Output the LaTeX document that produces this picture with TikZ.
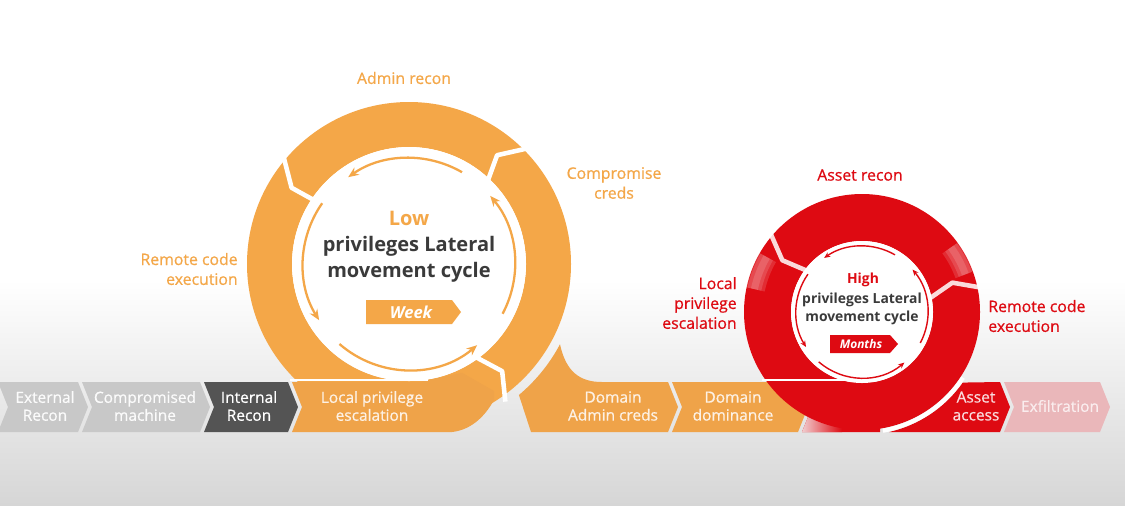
\documentclass[tikz,border=0pt]{standalone}
\usepackage{fontspec}
\setmainfont{Open Sans}
\newfontfamily\semib{Open Sans}[FakeBold=0.7]
\usetikzlibrary{arrows.meta,calc}
\definecolor{cycorange}{RGB}{244,167,72}
\definecolor{bandorange}{RGB}{239,163,73}
\definecolor{cycred}{RGB}{222,10,18}
\definecolor{textdark}{RGB}{58,58,58}
\definecolor{chevgray}{RGB}{200,200,200}
\definecolor{chevdark}{RGB}{84,84,84}
\definecolor{exfilpink}{RGB}{234,183,186}
\definecolor{bggray}{RGB}{214,214,214}

% one step of the kill-chain row
\newcommand{\chevron}[2]{(#1,-382) -- (#2,-382) -- ++(10,-25) -- (#2,-432) -- (#1,-432) -- ++(10,25) -- cycle}

\begin{document}
\begin{tikzpicture}[x=0.02cm, y=0.02cm,
    lbl/.style={font=\semib\fontsize{9}{11.3}\selectfont, align=center, inner sep=0pt},
    steptext/.style={font=\semib\fontsize{8.8}{10.2}\selectfont, align=center, inner sep=0pt},
    hubtext/.style={font=\bfseries\fontsize{11.4}{14.8}\selectfont, align=center, inner sep=0pt, text=textdark},
    gap/.style={white, line width=2.6pt, line join=round},
    gloss/.style={white, opacity=.14, line width=#1},
    cyc/.style={cycorange, line width=1.3pt, -{Stealth[length=6pt, width=5pt]}},
    tag/.style={font=\bfseries\itshape\fontsize{9.4}{10}\selectfont, text=white, inner sep=0pt}]
  \useasboundingbox (0,0) rectangle (1125,-505);
  % background
  \fill[white] (0,0) rectangle (1125,-505);
  \shade[top color=white, bottom color=bggray] (0,-280) rectangle (1125,-505);

  \coordinate (oc) at (409,-264);
  \coordinate (rc) at (862,-312);

  % grey steps
  \fill[chevgray] \chevron{-2}{78};
  \fill[chevgray] \chevron{82}{200};
  \fill[chevdark] \chevron{204}{288};

  % low privileges cycle
  \fill[cycorange, even odd rule] (oc) circle (162) (oc) circle (117);
  \fill[white] (oc) circle (117);
  \fill[bandorange] (292,-382) -- (420,-382) -- ($(oc)+(-64:121)$) -- (494,-391) -- (494,-400)
    .. controls (484,-418) and (470,-430) .. (452,-432) -- (292,-432) -- (302,-407) -- cycle;
  \fill[bandorange] (531,-432) -- ($(oc)+(-50:171)$) arc[start angle=-50, end angle=-28, radius=171]
    .. controls (566,-372) and (580,-382) .. (602,-382) -- (668,-382) -- (678,-407) -- (668,-432) -- cycle;
  \fill[bandorange] \chevron{672}{798};
  \draw[gap] ($(oc)+(139:167)$) -- ($(oc)+(147:140)$) -- ($(oc)+(146:112)$);
  \draw[gap] ($(oc)+(44:167)$) -- ($(oc)+(51:140)$) -- ($(oc)+(46:112)$);
  \draw[gap] ($(oc)+(-55:112)$) -- ($(oc)+(-49:142)$) -- ($(oc)+(-55:168)$);
  \draw[gap, line width=1.4pt] (290,-380) -- (428,-380);
  \foreach \a/\b in {60/125, 145/212, 229/310, 332/400}
    \draw[cyc] ($(oc)+(\a:106)$) arc[start angle=\a, end angle=\b, radius=106];
  \fill[cycorange] (366,-300) -- (452,-300) -- (461,-312) -- (452,-324) -- (366,-324) -- cycle;

  % high privileges cycle
  \fill[cycred] (802,-382) -- (880,-382) -- (880,-432) -- (802,-432) -- (812,-407) -- cycle;
  \shade[left color=exfilpink!70, right color=cycred] (802,-382) -- (842,-382) -- (842,-432) -- (802,-432) -- (812,-407) -- cycle;
  \fill[cycred, even odd rule] (rc) circle (118) (rc) circle (71);
  \fill[white] (rc) circle (71);
  \fill[cycred] (889,-432) arc[start angle=-77.3, end angle=-35, radius=123] -- (1000,-382) -- (1010,-407) -- (1000,-432) -- cycle;
  \fill[exfilpink] \chevron{1004}{1100};
  \foreach \w in {4pt,8pt,12pt} {
    \draw[gloss=\w] ($(rc)+(150:110)$) arc[start angle=150, end angle=168, radius=110];
    \draw[gloss=\w] ($(rc)+(20:110)$) arc[start angle=20, end angle=36, radius=110];
  }
  \draw[gap, line width=2.4pt] ($(rc)+(-80:120.5)$) arc[start angle=-80, end angle=-33, radius=120.5];
  \draw[gap, opacity=.85] ($(rc)+(139:122)$) -- ($(rc)+(147:95)$) -- ($(rc)+(143:68)$);
  \draw[gap, opacity=.85] ($(rc)+(11:68)$) -- ($(rc)+(18:95)$) -- ($(rc)+(11.5:122)$);
  \draw[gap, line width=1.2pt] (762,-380) -- (872,-380);
  \foreach \a/\b in {60/125, 145/212, 229/310, 332/400}
    \draw[cycred, line width=.8pt, -{Stealth[length=3.5pt, width=3pt]}] ($(rc)+(\a:66)$) arc[start angle=\a, end angle=\b, radius=66];
  \fill[cycred] (830,-335) -- (890,-335) -- (898,-344) -- (890,-353) -- (830,-353) -- cycle;

  % step labels
  \node[steptext, text=white!92!chevgray] (extrecon) at (45,-406) {External\\Recon};
  \node[steptext, text=white!92!chevgray] (compmachine) at (145,-406) {Compromised\\machine};
  \node[steptext, text=white] (intrecon) at (249,-406) {Internal\\Recon};
  \node[steptext, text=white!85!bandorange] (localpriv) at (372,-406) {Local privilege\\escalation};
  \node[steptext, text=white!85!bandorange] (domadmin) at (613,-406) {Domain\\Admin creds};
  \node[steptext, text=white!85!bandorange] (domdom) at (733,-406) {Domain\\dominance};
  \node[steptext, text=white!85!cycred] (assetaccess) at (976,-406) {Asset\\access};
  \node[steptext, text=white!75!exfilpink] (exfil) at (1060,-406) {Exfiltration};

  % cycle labels
  \node[lbl, text=cycorange] (adminrecon) at (404,-78) {Admin recon};
  \node[lbl, text=cycorange] (compcreds) at (614,-183) {Compromise\\creds};
  \node[lbl, text=cycorange, align=right, anchor=east] (rceorange) at (238,-269) {Remote code\\execution};
  \node[lbl, text=cycred] (assetrecon) at (860,-175) {Asset recon};
  \node[lbl, text=cycred, align=right, anchor=east] (lpered) at (737,-303) {Local\\privilege\\escalation};
  \node[lbl, text=cycred, align=left, anchor=west] (rcered) at (988,-316) {Remote code\\execution};

  % hub texts
  \node[hubtext, text=cycorange] (low) at (409,-218) {Low};
  \node[hubtext] (lowcycle) at (409,-259) {privileges Lateral\\movement cycle};
  \node[tag] (week) at (411,-312) {Week};
  \node[hubtext, font=\bfseries\fontsize{7.9}{10.4}\selectfont, text=cycred] (high) at (863,-280) {High};
  \node[hubtext, font=\bfseries\fontsize{7.9}{10.4}\selectfont] (highcycle) at (862,-309) {privileges Lateral\\movement cycle};
  \node[tag, font=\bfseries\itshape\fontsize{6.8}{8}\selectfont] (months) at (861,-344) {Months};
\end{tikzpicture}
\end{document}
